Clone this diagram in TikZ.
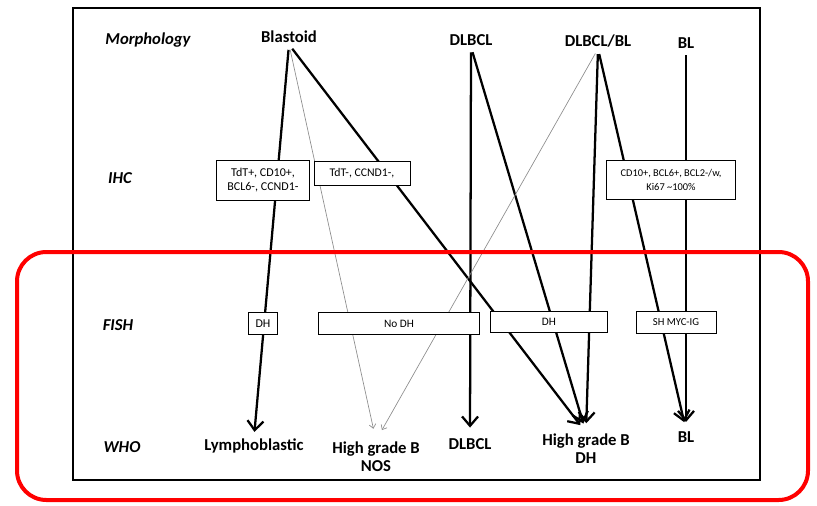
\documentclass[tikz,border=0pt]{standalone}
\usepackage{fontspec}
\setmainfont{Carlito}
\usetikzlibrary{arrows.meta,positioning}

\begin{document}
\begin{tikzpicture}[x=0.75pt,y=-0.75pt,
  lab/.style={font=\bfseries\fontsize{12.5}{13.5}\selectfont,align=center,inner sep=1pt},
  row/.style={font=\bfseries\itshape\fontsize{12.5}{14}\selectfont},
  box/.style={draw,fill=white,line width=0.7pt,font=\fontsize{8}{9.5}\selectfont,align=center,inner sep=1pt},
  bold/.style={line width=1.7pt,-{Straight Barb[length=7pt,width=12pt]}},
  faint/.style={line width=0.5pt,black!45,-{Straight Barb[length=3pt,width=5pt]}},
  shorten <=4pt]
\useasboundingbox (0,0) rectangle (817,506);
\draw[line width=1.2pt] (73,8) rectangle (760,480);

% rows
\node[row] (r_m) at (148,40) {Morphology};
\node[row] (r_i) at (120,178) {IHC};
\node[row] (r_f) at (118,325) {FISH};
\node[row] (r_w) at (122,447) {WHO};

% morphology
\node[lab] (m_blast) at (289,37) {Blastoid};
\node[lab] (m_dlbcl) at (471,40) {DLBCL};
\node[lab] (m_mix) at (598,41) {DLBCL/BL};
\node[lab] (m_bl) at (686,43) {BL};

% who
\node[lab] (w_lymph) at (254,446) {Lymphoblastic};
\node[lab] (w_nos) at (376,457) {High grade B\\NOS};
\node[lab] (w_dlbcl) at (470,444) {DLBCL};
\node[lab] (w_dh) at (586,449) {High grade B\\DH};
\node[lab] (w_bl) at (686,437) {BL};

\path
(m_blast.south) edge [bold,shorten >=4pt] (w_lymph.north)
(m_blast.south) edge [faint,shorten >=9pt] (w_nos.north)
(m_blast.south) edge [bold,shorten >=7pt] (w_dh.north)
(m_dlbcl.south) edge [bold,shorten >=7pt] (w_dlbcl.north)
(m_dlbcl.south) edge [bold,shorten >=7pt] (w_dh.north)
(m_mix.south) edge [faint,shorten >=9pt] (w_nos.north)
(m_mix.south) edge [bold,shorten >=7pt] (w_dh.north)
(m_mix.south) edge [bold,shorten >=6pt] (w_bl.north)
(m_bl.south) edge [bold,shorten >=6pt] (w_bl.north);

% ihc
\node[box,minimum width=70pt,minimum height=30pt,font=\fontsize{9}{10.5}\selectfont] (i_blast) at (263,180) {TdT+, CD10+,\\BCL6-, CCND1-};
\node[box,minimum width=72pt,minimum height=18pt,font=\fontsize{8.8}{10}\selectfont] (i_neg) at (362,173) {TdT-, CCND1-,};
\node[box,minimum width=97pt,minimum height=29pt,font=\fontsize{7.8}{10}\selectfont] (i_bl) at (671,180) {CD10+, BCL6+, BCL2-/w,\\Ki67 \textasciitilde100\%};

% fish
\node[box,minimum width=22pt,minimum height=16pt,font=\fontsize{9}{10}\selectfont] (f_dh) at (263,323.5) {DH};
\node[box,minimum width=121pt,minimum height=17pt,font=\fontsize{8.5}{10}\selectfont] (f_nodh) at (399,323.5) {No DH};
\node[box,minimum width=88pt,minimum height=16pt,font=\fontsize{8.5}{10}\selectfont] (f_dh2) at (549,322) {DH};
\node[box,minimum width=60pt,minimum height=16pt] (f_sh) at (676,322.5) {SH MYC-IG};

\draw[red,line width=3pt,rounded corners=22pt] (17,252) rectangle (808,500);
\end{tikzpicture}
\end{document}
